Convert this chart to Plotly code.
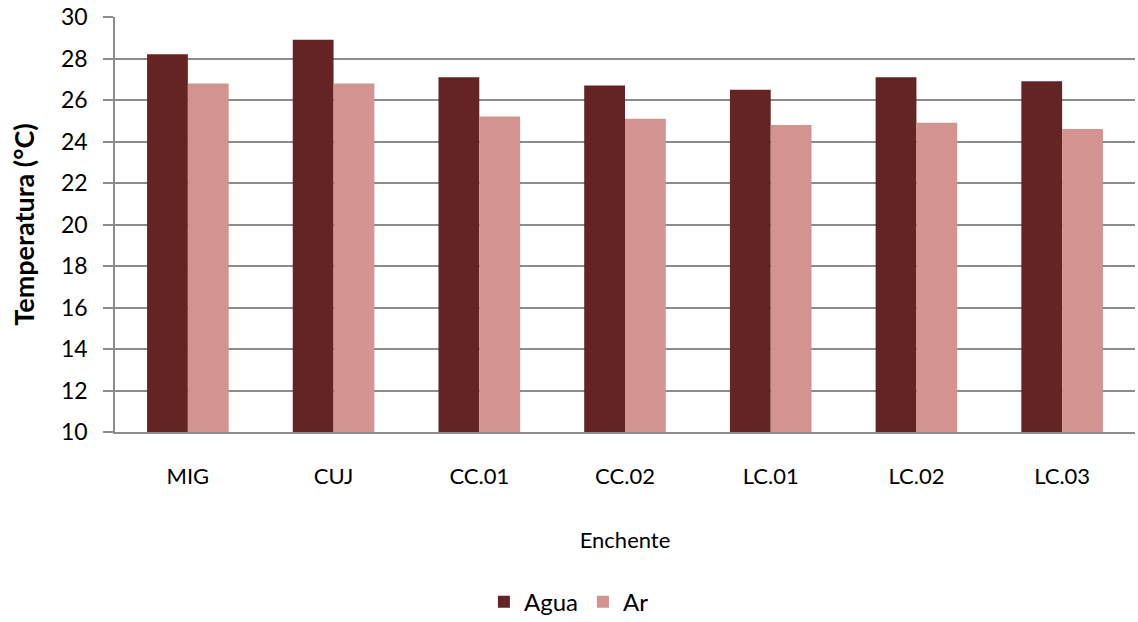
import plotly.graph_objects as go

# Sampling sites (flood season) and mean temperatures
sites = ["MIG", "CUJ", "CC.01", "CC.02", "LC.01", "LC.02", "LC.03"]
agua = [28.2, 28.9, 27.1, 26.7, 26.5, 27.1, 26.9]
ar = [26.8, 26.8, 25.2, 25.1, 24.8, 24.9, 24.6]
y_ticks = [10, 12, 14, 16, 18, 20, 22, 24, 26, 28, 30]

FONT = "Lato, 'Open Sans', sans-serif"
GRID = "#8c8c8c"

fig = go.Figure()
fig.add_trace(go.Bar(name="Agua", x=sites, y=agua, marker_color="#632423",
                     marker_line_width=0))
fig.add_trace(go.Bar(name="Ar", x=sites, y=ar, marker_color="#D39391",
                     marker_line_width=0))

fig.update_layout(
    width=1138, height=622,
    margin=dict(l=115, r=3, t=17, b=190, autoexpand=False),
    barmode="group", bargap=0.44, bargroupgap=0,
    plot_bgcolor="white", paper_bgcolor="white",
    font=dict(family=FONT, size=22, color="#000000"),
    legend=dict(orientation="h", x=0.445, xanchor="center", y=-0.41,
                yanchor="middle", font=dict(size=24), itemwidth=30,
                tracegroupgap=0),
)
fig.update_yaxes(
    range=[10, 30], tickvals=y_ticks, showgrid=True, gridcolor=GRID,
    gridwidth=1.5, showline=True, linecolor=GRID, linewidth=1.5,
    ticks="outside", ticklen=10, tickcolor=GRID, tickwidth=1.5,
    tickfont=dict(size=23), ticklabelstandoff=11, zeroline=False,
    automargin=False,
    title=dict(text="<b>Temperatura (°C)</b>", font=dict(size=27), standoff=19),
)
fig.update_xaxes(
    showline=True, linecolor=GRID, linewidth=1.5, ticks="",
    tickfont=dict(size=22), ticklabelstandoff=24, automargin=False,
    title=dict(text="Enchente", font=dict(size=22), standoff=44),
)

fig.write_html("out.html")
